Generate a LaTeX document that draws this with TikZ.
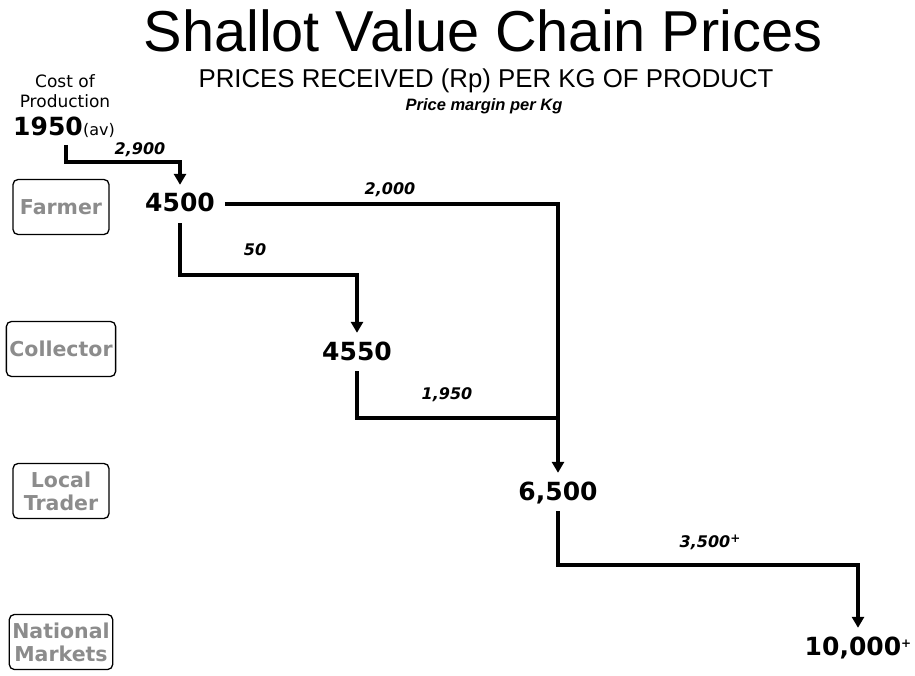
\documentclass[tikz,border=0pt]{standalone}
\usepackage{fontspec}
\setmainfont{DejaVu Sans}
\newfontfamily\titlefont{Liberation Sans}
\usetikzlibrary{positioning,arrows.meta}
\definecolor{StageGrey}{HTML}{8C8C8C}
\newcommand{\plusmark}{\raisebox{0.55ex}{\fontsize{12}{12}\selectfont +}}

\begin{document}
\begin{tikzpicture}[x=1pt,y=-1pt,
  every node/.style={inner sep=0pt},
  stage/.style={draw=black,line width=1.3pt,rounded corners=5pt,minimum width=96pt,minimum height=55pt,inner xsep=3pt,align=center,text=StageGrey,font=\fontsize{20.5}{23}\selectfont\bfseries},
  price/.style={inner xsep=10pt,inner ysep=9pt,text height=18pt,text depth=2pt,font=\fontsize{25}{30}\selectfont\bfseries},
  margin/.style={font=\fontsize{16}{19}\selectfont\bfseries\itshape},
  flow/.style={line width=3.5pt,-{Triangle[width=12pt,length=11pt]}},
  link/.style={line width=3.5pt}]
  \useasboundingbox (0,0) rectangle (915,676);
  % headings
  \node[font=\titlefont\fontsize{57.7}{60}\selectfont] (title) at (483,31) {Shallot Value Chain Prices};
  \node[font=\titlefont\fontsize{25.8}{28}\selectfont] (subtitle) at (486,81) {PRICES RECEIVED (Rp) PER KG OF PRODUCT};
  \node[font=\titlefont\fontsize{16.5}{18}\selectfont\bfseries\itshape] (note) at (484,106) {Price margin per Kg};
  % stages
  \foreach \i/\lab/\y in {1/Farmer/207,2/Collector/349,3/{Local\\Trader}/491,4/{National\\Markets}/642}
    \node[stage] (s\i) at (61,\y) {\lab};
  % prices
  \node[align=center,font=\fontsize{17}{20}\selectfont] (costlab) at (65,91) {Cost of\\Production};
  \node[price,anchor=west,inner xsep=5pt] (cost) at (8,128) {1950};
  \node[anchor=base west,font=\fontsize{16}{18}\selectfont] (av) at ([xshift=-5pt]cost.base east) {(av)};
  \node[price] (p1) at (180,204) {4500};
  \node[price] (p2) at (357,352) {4550};
  \node[price] (p3) at (558,492) {6,500};
  \node[price] (p4) at (858,647) {10,000\plusmark};
  % connectors
  \coordinate (c0) at (66,145);
  \coordinate (k1) at (120,162);
  \coordinate (k2) at (260,275);
  \coordinate (k3) at (450,418);
  \coordinate (k4) at (700,565);
  \draw[flow] (c0) |- (k1) -| (p1.north);
  \draw[flow] (p1.east) -| (p3.north);
  \draw[flow] (p1.south) |- (k2) -| (p2.north);
  \draw[link] (p2.south) |- (p3.north |- k3);
  \draw[flow] (p3.south) |- (k4) -| (p4.north);
  % margins
  \node[margin] (m1) at (140,150) {2,900};
  \node[margin] (m2) at (390,190) {2,000};
  \node[margin] (m3) at (255,250) {50};
  \node[margin] (m4) at (447,395) {1,950};
  \node[margin] (m5) at (710,542) {3,500\plusmark};
\end{tikzpicture}
\end{document}
